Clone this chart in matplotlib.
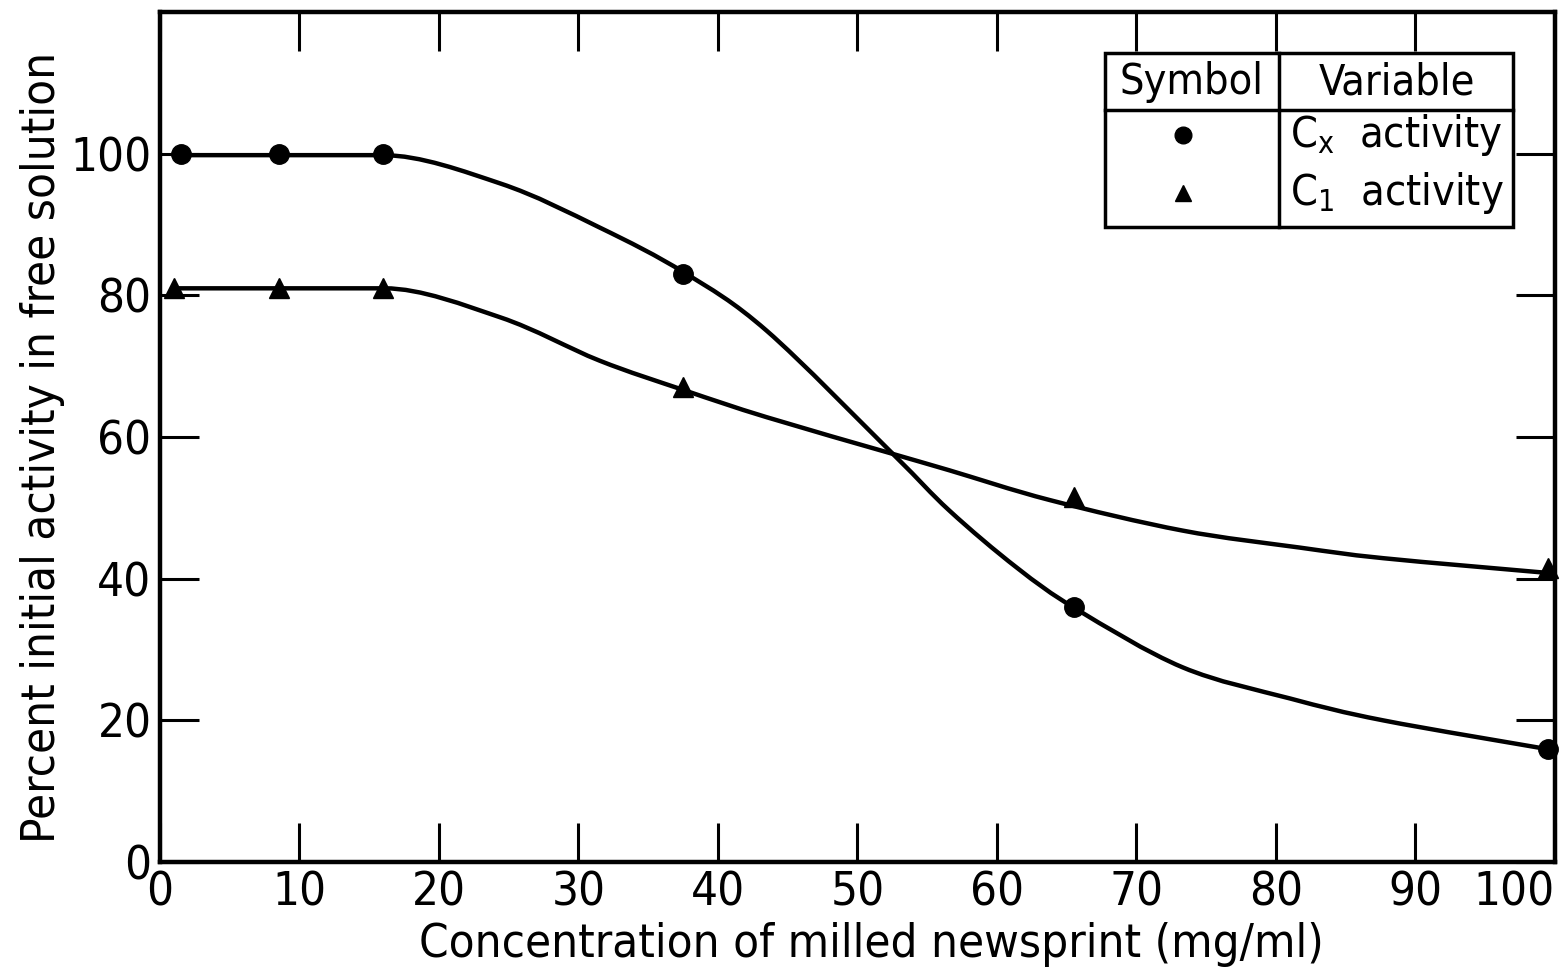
import matplotlib
matplotlib.use("Agg")
import matplotlib.pyplot as plt
from matplotlib.path import Path
from matplotlib.patches import PathPatch, Rectangle
from matplotlib.lines import Line2D
import numpy as np

plt.rcParams["font.family"] = ["DejaVu Sans"]
plt.rcParams["font.stretch"] = "condensed"
plt.rcParams["mathtext.fontset"] = "custom"
plt.rcParams["mathtext.rm"] = "DejaVu Sans:stretch=condensed"

# measured points
conc_cx = [1.5, 8.5, 16, 37.5, 65.5, 99.5]
cx_activity = [100, 100, 100, 83, 36, 16]
conc_c1 = [1, 8.5, 16, 37.5, 65.5, 99.5]
c1_activity = [81, 81, 81, 67, 51.5, 41.5]

# hand-drawn curves
cx_curve_x = [1.5, 8.5, 16, 24.4, 31.5, 37.6, 43.5, 52.5, 56.6, 61.4, 65.7, 73.3, 81, 87.7, 99.6]
cx_curve_y = [99.8, 99.8, 99.8, 95.8, 89.6, 83.2, 75.0, 57.7, 49.6, 41.6, 35.7, 27.5, 23.1, 20.0, 15.9]
c1_curve_x = [1, 8.7, 16.1, 24.4, 31.5, 37.6, 43.5, 52.4, 56.6, 63.8, 73.3, 81.7, 87.7, 99.6]
c1_curve_y = [81, 81, 81, 76.9, 70.8, 66.6, 62.8, 57.7, 55.3, 51.1, 46.8, 44.4, 42.9, 40.8]

xticks = [0, 10, 20, 30, 40, 50, 60, 70, 80, 90, 100]
yticks = [0, 20, 40, 60, 80, 100]


def smooth_path(xs, ys):
    # Catmull-Rom through the knots as Bezier segments, flat where the curve levels off
    pts = np.column_stack([xs, ys]).astype(float)
    n = len(pts)
    tang = []
    for i in range(n):
        a = pts[max(i - 1, 0)]
        b = pts[min(i + 1, n - 1)]
        t = (b - a) / 6.0
        if 0 < i < n - 1 and (pts[i][1] - a[1]) * (b[1] - pts[i][1]) <= 0:
            t[1] = 0.0
        tang.append(t)
    verts = [pts[0]]
    codes = [Path.MOVETO]
    for i in range(n - 1):
        verts += [pts[i] + tang[i], pts[i + 1] - tang[i + 1], pts[i + 1]]
        codes += [Path.CURVE4] * 3
    return Path(verts, codes)


fig = plt.figure(figsize=(15.68, 9.73), dpi=100)
ax = fig.add_axes([0.102, 0.114, 0.8897, 0.8736])

for xs, ys in [(cx_curve_x, cx_curve_y), (c1_curve_x, c1_curve_y)]:
    ax.add_patch(PathPatch(smooth_path(xs, ys), fill=False, lw=3.2,
                           edgecolor="black", capstyle="round", clip_on=False))

ax.plot(conc_cx, cx_activity, "o", color="black", ms=14, clip_on=False, zorder=5)
ax.plot(conc_c1, c1_activity, "^", color="black", ms=14, clip_on=False, zorder=5)

ax.set_xlim(0, 100)
ax.set_ylim(0, 120)
ax.set_xticks(xticks)
ax.set_yticks(yticks)
ax.tick_params(direction="in", length=28, width=2.2, pad=6, labelsize=34,
               top=True, bottom=True, left=True, right=True)
ax.get_xticklabels()[-1].set_horizontalalignment("right")
for s in ax.spines.values():
    s.set_linewidth(3.2)

ax.set_xlabel("Concentration of milled newsprint (mg/ml)", fontsize=34)
ax.set_ylabel("Percent initial activity in free solution", fontsize=34)
ax.xaxis.set_label_coords(0.51, -0.07)
ax.yaxis.set_label_coords(-0.068, 0.488)

# symbol / variable table
tr = ax.transAxes
ax.add_patch(Rectangle((0.6774, 0.7471), 0.9699 - 0.6774, 0.9518 - 0.7471,
                       transform=tr, fill=False, lw=2.5, edgecolor="black", zorder=6))
ax.add_line(Line2D([0.6774, 0.9699], [0.8847, 0.8847], transform=tr, lw=2.5, color="black"))
ax.add_line(Line2D([0.8022, 0.8022], [0.7471, 0.9518], transform=tr, lw=2.5, color="black"))
ax.text(0.7395, 0.9175, "Symbol", transform=tr, ha="center", va="center", fontsize=31)
ax.text(0.8865, 0.9175, "Variable", transform=tr, ha="center", va="center", fontsize=31)
ax.plot([0.7333], [0.8553], "o", color="black", ms=12, transform=tr)
ax.plot([0.7333], [0.7871], "^", color="black", ms=12, transform=tr)
ax.text(0.8865, 0.8553, r"C$_\mathrm{x}$  activity", transform=tr, ha="center",
        va="center", fontsize=31)
ax.text(0.8865, 0.7871, r"C$_\mathrm{1}$  activity", transform=tr, ha="center",
        va="center", fontsize=31)

fig.savefig("out.png", dpi=100, facecolor="white")
